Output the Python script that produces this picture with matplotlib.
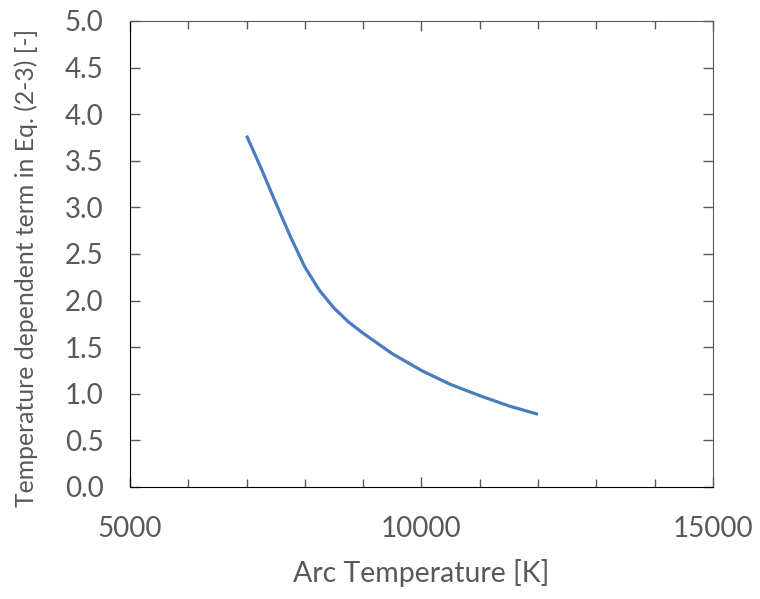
import matplotlib.pyplot as plt
from matplotlib.ticker import MultipleLocator

# data
temperature = [7000, 7250, 7500, 7750, 8000, 8250, 8500, 8750, 9000, 9250,
               9500, 9750, 10000, 10500, 11000, 11500, 12000]
term = [3.77, 3.42, 3.05, 2.69, 2.36, 2.11, 1.92, 1.77, 1.65, 1.54,
        1.43, 1.34, 1.25, 1.10, 0.98, 0.87, 0.78]

plt.rcParams['font.family'] = ['Lato', 'DejaVu Sans']
grey = '#595959'

fig = plt.figure(figsize=(7.6, 5.99), dpi=100)
ax = fig.add_axes([0.171, 0.187, 0.767, 0.778])

ax.plot(temperature, term, color='#4a7dbf', linewidth=2.3,
        solid_capstyle='butt', solid_joinstyle='round')

ax.set_xlim(5000, 15000)
ax.set_ylim(0, 5)
ax.xaxis.set_major_locator(MultipleLocator(5000))
ax.xaxis.set_minor_locator(MultipleLocator(1000))
ax.yaxis.set_major_locator(MultipleLocator(0.5))
ax.yaxis.set_major_formatter(plt.FormatStrFormatter('%.1f'))

ax.tick_params(which='both', direction='in', top=True, right=True,
               color=grey, labelcolor=grey, labelsize=20, width=1)
ax.tick_params(which='major', length=7)
ax.tick_params(which='minor', length=6)
ax.tick_params(axis='x', pad=21)
ax.tick_params(axis='y', pad=19)

for side in ['left', 'bottom']:
    ax.spines[side].set_color('black')
for side in ['top', 'right']:
    ax.spines[side].set_color(grey)

ax.set_xlabel('Arc Temperature [K]', fontsize=20.5, color=grey, labelpad=12)
ax.set_ylabel('Temperature dependent term in Eq. (2-3) [-]', fontsize=17.8,
              color=grey)
ax.yaxis.set_label_coords(-0.158, 0.47)

fig.savefig('out.png', dpi=100)
